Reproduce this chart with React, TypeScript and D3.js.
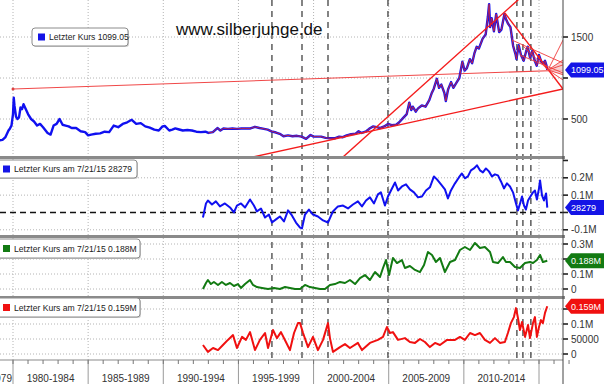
import React from 'react';
import * as d3 from 'd3';

const W = 604;
const H = 384;

// Gold price (Letzter Kurs), [year, USD]
const goldData: [number, number][] = [
  [1979.1, 240], [1979.3, 245], [1979.5, 280], [1979.7, 360], [1979.8, 385], [1979.9, 420],
  [1980.0, 560], [1980.05, 760], [1980.1, 660], [1980.2, 530], [1980.3, 500], [1980.4, 520],
  [1980.5, 640], [1980.6, 620], [1980.7, 680], [1980.8, 640], [1980.9, 600], [1981.0, 560],
  [1981.2, 500], [1981.4, 470], [1981.6, 420], [1981.8, 440], [1982.0, 400], [1982.3, 330],
  [1982.5, 310], [1982.7, 420], [1982.9, 440], [1983.1, 500], [1983.3, 430], [1983.5, 420],
  [1983.7, 410], [1983.9, 390], [1984.2, 390], [1984.5, 350], [1984.8, 340], [1985.0, 300],
  [1985.2, 310], [1985.5, 320], [1985.8, 325], [1986.1, 345], [1986.4, 340], [1986.7, 420],
  [1987.0, 400], [1987.3, 440], [1987.6, 460], [1987.9, 490], [1988.2, 440], [1988.5, 450],
  [1988.8, 410], [1989.1, 395], [1989.4, 370], [1989.7, 360], [1989.95, 410], [1990.1, 415],
  [1990.4, 360], [1990.6, 370], [1990.8, 385], [1991.0, 375], [1991.3, 360], [1991.6, 365],
  [1991.9, 360], [1992.2, 345], [1992.5, 340], [1992.8, 345], [1993.0, 330], [1993.3, 340],
  [1993.6, 390], [1993.8, 360], [1994.0, 385], [1994.3, 380], [1994.6, 385], [1994.9, 380],
  [1995.2, 385], [1995.5, 385], [1995.8, 385], [1996.1, 405], [1996.4, 390], [1996.7, 380],
  [1996.95, 370], [1997.2, 350], [1997.5, 335], [1997.8, 315], [1998.0, 290], [1998.3, 300],
  [1998.6, 290], [1998.9, 295], [1999.2, 285], [1999.5, 258], [1999.8, 305], [2000.0, 285],
  [2000.2, 285], [2000.5, 285], [2000.8, 270], [2001.1, 265], [2001.4, 265], [2001.7, 285],
  [2001.95, 278], [2002.2, 300], [2002.5, 315], [2002.8, 320], [2003.0, 350], [2003.2, 330],
  [2003.5, 350], [2003.7, 380], [2003.95, 410], [2004.2, 400], [2004.4, 390], [2004.7, 410],
  [2004.95, 440], [2005.2, 425], [2005.5, 430], [2005.7, 460], [2005.95, 510], [2006.2, 560],
  [2006.37, 700], [2006.5, 610], [2006.6, 650], [2006.8, 590], [2006.95, 630], [2007.2, 665],
  [2007.45, 650], [2007.7, 730], [2007.85, 810], [2008.0, 870], [2008.2, 990], [2008.35, 880],
  [2008.5, 920], [2008.7, 820], [2008.8, 720], [2008.95, 860], [2009.15, 950], [2009.3, 880],
  [2009.5, 940], [2009.7, 1000], [2009.9, 1200], [2010.05, 1090], [2010.2, 1120], [2010.4, 1230],
  [2010.55, 1180], [2010.7, 1300], [2010.85, 1380], [2011.0, 1360], [2011.25, 1480], [2011.45, 1530],
  [2011.6, 1750], [2011.68, 1900], [2011.75, 1620], [2011.85, 1730], [2012.0, 1570], [2012.15, 1780],
  [2012.35, 1560], [2012.5, 1590], [2012.7, 1780], [2012.8, 1720], [2012.95, 1660], [2013.1, 1620],
  [2013.28, 1390], [2013.45, 1280], [2013.5, 1230], [2013.65, 1400], [2013.8, 1280], [2013.98, 1210],
  [2014.15, 1330], [2014.25, 1380], [2014.4, 1250], [2014.55, 1330], [2014.7, 1220], [2014.85, 1150],
  [2015.0, 1280], [2015.15, 1200], [2015.3, 1180], [2015.4, 1210], [2015.5, 1150], [2015.55, 1099.05],
];

// Panel 2 (blue), [year, millions]
const blueData: [number, number][] = [
  [1992.64, -0.029], [1992.84, 0.052], [1992.97, 0.069], [1993.24, 0.046], [1993.5, 0.064],
  [1993.77, 0.035], [1994.1, 0.052], [1994.44, 0.029], [1994.7, 0.0], [1994.9, 0.04],
  [1995.17, 0.052], [1995.44, 0.029], [1995.77, 0.075], [1996.03, 0.04], [1996.23, 0.006],
  [1996.5, 0.023], [1996.77, -0.029], [1997.03, -0.012], [1997.23, -0.058], [1997.5, -0.04],
  [1997.76, -0.023], [1998.03, -0.052], [1998.3, 0.012], [1998.56, -0.017], [1998.83, -0.058],
  [1999.1, -0.087], [1999.23, -0.092], [1999.43, -0.012], [1999.69, 0.017], [1999.96, -0.012],
  [2000.29, -0.023], [2000.63, -0.046], [2000.96, -0.058], [2001.29, 0.006], [2001.62, 0.035],
  [2001.96, 0.04], [2002.29, 0.023], [2002.62, 0.046], [2002.95, 0.064], [2003.22, 0.035],
  [2003.49, 0.069], [2003.75, 0.087], [2004.02, 0.052], [2004.28, 0.104], [2004.48, 0.116],
  [2004.75, 0.04], [2004.95, 0.092], [2005.15, 0.127], [2005.42, 0.173], [2005.62, 0.127],
  [2005.88, 0.15], [2006.15, 0.162], [2006.41, 0.133], [2006.68, 0.116], [2006.95, 0.087],
  [2007.21, 0.092], [2007.48, 0.127], [2007.74, 0.145], [2008.01, 0.208], [2008.21, 0.191],
  [2008.48, 0.162], [2008.74, 0.133], [2008.94, 0.081], [2009.14, 0.127], [2009.41, 0.168],
  [2009.67, 0.202], [2009.87, 0.225], [2010.07, 0.197], [2010.27, 0.208], [2010.47, 0.243],
  [2010.67, 0.254], [2010.87, 0.272], [2011.07, 0.243], [2011.27, 0.231], [2011.47, 0.254],
  [2011.67, 0.237], [2011.87, 0.208], [2012.07, 0.22], [2012.27, 0.214], [2012.47, 0.179],
  [2012.67, 0.139], [2012.87, 0.168], [2013.07, 0.15], [2013.27, 0.116], [2013.47, 0.052],
  [2013.6, 0.012], [2013.74, 0.052], [2013.87, 0.092], [2014.0, 0.04], [2014.13, 0.017],
  [2014.27, 0.069], [2014.47, 0.098], [2014.6, 0.116], [2014.73, 0.127], [2014.86, 0.075],
  [2015.0, 0.139], [2015.07, 0.185], [2015.2, 0.098], [2015.33, 0.069], [2015.47, 0.11],
  [2015.55, 0.028279],
];

// Panel 3 (green), [year, millions]
const greenData: [number, number][] = [
  [1992.64, 0.0], [1992.84, 0.04], [1992.97, 0.06], [1993.17, 0.033], [1993.37, 0.047],
  [1993.64, 0.027], [1993.9, 0.047], [1994.17, 0.027], [1994.44, 0.04], [1994.7, 0.02],
  [1994.97, 0.033], [1995.17, 0.007], [1995.44, 0.033], [1995.77, 0.06], [1995.97, 0.027],
  [1996.23, 0.013], [1996.57, 0.007], [1996.97, 0.0], [1997.37, 0.007], [1997.76, 0.0],
  [1998.1, 0.013], [1998.43, 0.007], [1998.76, 0.0], [1999.1, 0.0], [1999.43, 0.027],
  [1999.76, 0.013], [2000.09, 0.007], [2000.43, 0.0], [2000.76, 0.0], [2001.09, 0.027],
  [2001.42, 0.033], [2001.76, 0.047], [2002.09, 0.04], [2002.42, 0.06], [2002.76, 0.033],
  [2003.09, 0.073], [2003.42, 0.093], [2003.75, 0.06], [2004.09, 0.113], [2004.42, 0.08],
  [2004.62, 0.14], [2004.82, 0.193], [2005.02, 0.093], [2005.28, 0.207], [2005.55, 0.173],
  [2005.88, 0.193], [2006.08, 0.14], [2006.41, 0.153], [2006.75, 0.127], [2007.08, 0.113],
  [2007.35, 0.16], [2007.61, 0.247], [2007.88, 0.227], [2008.14, 0.18], [2008.41, 0.207],
  [2008.74, 0.113], [2009.08, 0.18], [2009.41, 0.193], [2009.74, 0.26], [2010.07, 0.28],
  [2010.41, 0.26], [2010.74, 0.307], [2011.07, 0.273], [2011.4, 0.28], [2011.74, 0.247],
  [2011.94, 0.18], [2012.27, 0.173], [2012.6, 0.213], [2012.8, 0.18], [2013.07, 0.18],
  [2013.4, 0.147], [2013.73, 0.14], [2014.07, 0.173], [2014.4, 0.18], [2014.6, 0.173],
  [2014.86, 0.193], [2015.07, 0.227], [2015.26, 0.18], [2015.55, 0.188],
];

// Panel 4 (red), [year, millions]
const redData: [number, number][] = [
  [1992.64, 0.03], [1992.97, 0.007], [1993.31, 0.02], [1993.64, 0.013], [1993.97, 0.03],
  [1994.3, 0.047], [1994.64, 0.063], [1994.9, 0.02], [1995.24, 0.057], [1995.5, 0.047],
  [1995.77, 0.073], [1996.1, 0.013], [1996.43, 0.047], [1996.77, 0.07], [1996.97, 0.02],
  [1997.3, 0.08], [1997.56, 0.053], [1997.83, 0.073], [1998.16, 0.04], [1998.43, 0.013],
  [1998.7, 0.07], [1998.96, 0.103], [1999.1, 0.103], [1999.3, 0.07], [1999.63, 0.023],
  [1999.96, 0.057], [2000.29, 0.013], [2000.63, 0.047], [2000.96, 0.103], [2001.09, 0.053],
  [2001.29, 0.007], [2001.76, 0.023], [2002.09, 0.033], [2002.42, 0.02], [2002.95, 0.037],
  [2003.22, 0.013], [2003.75, 0.037], [2004.28, 0.047], [2004.62, 0.057], [2004.88, 0.09],
  [2005.08, 0.07], [2005.28, 0.073], [2005.62, 0.047], [2006.08, 0.053], [2006.41, 0.04],
  [2006.75, 0.037], [2007.08, 0.05], [2007.41, 0.04], [2007.74, 0.023], [2008.08, 0.037],
  [2008.41, 0.03], [2008.88, 0.047], [2009.41, 0.047], [2009.74, 0.057], [2010.07, 0.047],
  [2010.41, 0.07], [2010.74, 0.063], [2011.07, 0.07], [2011.4, 0.047], [2011.74, 0.037],
  [2012.07, 0.053], [2012.4, 0.037], [2012.73, 0.04], [2012.93, 0.07], [2013.13, 0.103],
  [2013.33, 0.123], [2013.47, 0.153], [2013.6, 0.12], [2013.73, 0.08], [2013.87, 0.107],
  [2014.07, 0.057], [2014.27, 0.097], [2014.4, 0.053], [2014.6, 0.103], [2014.73, 0.123],
  [2014.86, 0.057], [2015.0, 0.09], [2015.13, 0.113], [2015.26, 0.103], [2015.4, 0.137],
  [2015.55, 0.159],
];

const periodStarts = [1975, 1980, 1985, 1990, 1995, 2000, 2005, 2010];
const periodLabels = ['1975-1979', '1980-1984', '1985-1989', '1990-1994', '1995-1999', '2000-2004', '2005-2009', '2010-2014'];
const gridYears = [1980, 1985, 1990, 1995, 2000, 2005, 2010, 2015];
const eventYears = [1997.23, 1999.23, 2000.96, 2004.95, 2013.53, 2013.93, 2014.46];

const goldTicks = [500, 1000, 1500];
const blueTicks = [-0.1, 0, 0.1, 0.2, 0.3];
const greenTicks = [0, 0.1, 0.2, 0.3];
const redTicks = [0, 0.05, 0.1, 0.15];

// Trend lines on the gold panel: [year1, value1, year2, value2]
const trendMain: [number, number, number, number][] = [
  [1995.97, 37, 2016.6, 866],
  [2001.96, 37, 2014.2, 2050],
  [2012.73, 1793, 2016.6, 866],
];
const trendFlat: [number, number, number, number] = [1980.0, 866, 2016.6, 1095];
const trendFan: [number, number, number, number][] = [
  [2015.6, 1098, 2016.6, 1463],
  [2015.6, 1098, 2016.6, 1220],
  [2015.6, 1098, 2016.6, 1160],
  [2015.6, 1098, 2016.6, 1040],
  [2015.6, 1098, 2016.6, 976],
  [2013.87, 1402, 2015.6, 1098],
  [2013.2, 1463, 2016.6, 1183],
  [2013.73, 1280, 2016.6, 1061],
];

const FONT = "'Liberation Sans', Arial, sans-serif";
const AXIS_X = 563;

function fmtM(v: number) {
  if (v === 0) return '0';
  if (Math.abs(v) >= 0.1 - 1e-9) return `${+v.toFixed(2)}M`;
  return `${Math.round(v * 1e6)}`;
}

export default function App() {
  const x = d3.scaleLinear().domain([1980, 2015]).range([13, 539]);
  const yGold = d3.scaleLinear().domain([0, 1500]).range([160, 37]);
  const yBlue = d3.scaleLinear().domain([-0.1, 0.2]).range([229.8, 177.8]);
  const yGreen = d3.scaleLinear().domain([0, 0.3]).range([289, 244]);
  const yRed = d3.scaleLinear().domain([0, 0.1]).range([354, 324]);

  const panels = [
    { top: 0, bottom: 156, id: 'p1' },
    { top: 159, bottom: 235, id: 'p2' },
    { top: 238, bottom: 296, id: 'p3' },
    { top: 299, bottom: 360, id: 'p4' },
  ];

  const lineG = d3.line<[number, number]>().x(d => x(d[0])).y(d => yGold(d[1]));
  const lineB = d3.line<[number, number]>().x(d => x(d[0])).y(d => yBlue(d[1]));
  const lineGr = d3.line<[number, number]>().x(d => x(d[0])).y(d => yGreen(d[1]));
  const lineR = d3.line<[number, number]>().x(d => x(d[0])).y(d => yRed(d[1]));

  const minorYears = d3.range(1976, 2018);

  const tags = [
    { y: yGold(1099.05), t: '1099.05', c: '#1414e6' },
    { y: yBlue(0.028279), t: '28279', c: '#1414e6' },
    { y: yGreen(0.188), t: '0.188M', c: '#127a12' },
    { y: yRed(0.159), t: '0.159M', c: '#f01010' },
  ];

  const allTicks = [
    ...goldTicks.map(v => ({ y: yGold(v), t: String(v) })),
    ...blueTicks.map(v => ({ y: yBlue(v), t: v === 0.3 ? '' : fmtM(v) })),
    ...greenTicks.map(v => ({ y: yGreen(v), t: fmtM(v) })),
    ...redTicks.map(v => ({ y: yRed(v), t: fmtM(v) })),
  ];
  // labels hidden behind a value tag are not drawn (tick mark stays)
  const tickLabels = allTicks.map(tl => ({
    ...tl,
    t: tags.some(tg => Math.abs(tg.y - tl.y) < 11) ? '' : tl.t,
  }));

  const legends = [
    { x: 32, y: 28, w: 96, h: 18, c: '#1414e6', t: 'Letzter Kurs  1099.05' },
    { x: -3, y: 160, w: 140, h: 18, c: '#1414e6', t: 'Letzter Kurs am 7/21/15  28279' },
    { x: -3, y: 239, w: 143, h: 19, c: '#127a12', t: 'Letzter Kurs am 7/21/15  0.188M' },
    { x: -3, y: 298, w: 143, h: 19, c: '#f01010', t: 'Letzter Kurs am 7/21/15  0.159M' },
  ];

  const fanP = { x: x(2015.6), y: yGold(1098) };

  return (
    <svg width={W} height={H} style={{ position: 'absolute', left: 0, top: 0, background: '#fff' }}>
      <defs>
        {panels.map(p => (
          <clipPath id={`clip-${p.id}`} key={p.id}>
            <rect x={0} y={p.top} width={AXIS_X} height={p.bottom - p.top} />
          </clipPath>
        ))}
      </defs>
      <rect x={0} y={0} width={W} height={H} fill="#fff" />

      {/* dotted grid */}
      {panels.map(p => (
        <g key={`vg-${p.id}`}>
          {gridYears.map(yr => (
            <line key={yr} x1={x(yr)} x2={x(yr)} y1={p.top} y2={p.bottom}
              stroke="#b4b4b4" strokeDasharray="1,2" strokeWidth={1} />
          ))}
        </g>
      ))}
      {[
        ...goldTicks.map(v => yGold(v)),
        ...blueTicks.filter(v => v !== 0 && v !== 0.3).map(v => yBlue(v)),
        ...greenTicks.map(v => yGreen(v)),
        ...redTicks.map(v => yRed(v)),
      ].map((yy, i) => (
        <line key={`hg${i}`} x1={0} x2={AXIS_X} y1={yy} y2={yy} stroke="#b4b4b4" strokeDasharray="1,2" />
      ))}

      {/* event dashed verticals */}
      {eventYears.map(yr => (
        <line key={`ev${yr}`} x1={x(yr)} x2={x(yr)} y1={0} y2={360}
          stroke="#333" strokeWidth={1.2} strokeDasharray="6,5" />
      ))}

      {/* panel 1: gold */}
      <g clipPath="url(#clip-p1)">
        <line x1={x(trendFlat[0])} y1={yGold(trendFlat[1])} x2={x(trendFlat[2])} y2={yGold(trendFlat[3])}
          stroke="#f04848" strokeWidth={1.1} />
        <circle cx={x(trendFlat[0])} cy={yGold(trendFlat[1])} r={1.5} fill="#e04040" />
        <polygon
          points={`${fanP.x},${fanP.y} ${AXIS_X},${yGold(1220)} ${AXIS_X},${yGold(1040)}`}
          fill="#f6c4c4" opacity={0.8} />
        <path d={lineG(goldData) || ''} fill="none" stroke="#1010f0" strokeWidth={2.4} strokeLinejoin="round" />
        <path d={lineG(goldData.filter(d => d[0] >= 1993)) || ''} fill="none" stroke="#e02828" strokeWidth={0.8} />
        {trendMain.map((t, i) => (
          <line key={`tm${i}`} x1={x(t[0])} y1={yGold(t[1])} x2={x(t[2])} y2={yGold(t[3])}
            stroke="#f41c1c" strokeWidth={1.4} />
        ))}
        {trendFan.map((t, i) => (
          <line key={`tf${i}`} x1={x(t[0])} y1={yGold(t[1])} x2={x(t[2])} y2={yGold(t[3])}
            stroke="#f03c3c" strokeWidth={0.9} />
        ))}
      </g>

      {/* panel 2 */}
      <g clipPath="url(#clip-p2)">
        <line x1={0} x2={AXIS_X} y1={yBlue(0)} y2={yBlue(0)} stroke="#111" strokeWidth={1.5} strokeDasharray="6,4" />
        <path d={lineB(blueData) || ''} fill="none" stroke="#1010f0" strokeWidth={2} strokeLinejoin="round" />
      </g>

      {/* panel 3 */}
      <g clipPath="url(#clip-p3)">
        <path d={lineGr(greenData) || ''} fill="none" stroke="#127a12" strokeWidth={2} strokeLinejoin="round" />
      </g>

      {/* panel 4 */}
      <g clipPath="url(#clip-p4)">
        <path d={lineR(redData) || ''} fill="none" stroke="#f01010" strokeWidth={2} strokeLinejoin="round" />
      </g>

      {/* panel separators */}
      {[156, 235, 296].map(yy => (
        <rect key={`sep${yy}`} x={0} y={yy} width={AXIS_X + 2} height={3} fill="#8a8a8a" />
      ))}

      {/* x axis band */}
      <line x1={0} x2={AXIS_X} y1={360} y2={360} stroke="#8a8a8a" strokeWidth={1.2} />
      {gridYears.map(yr => (
        <line key={`xb${yr}`} x1={x(yr)} x2={x(yr)} y1={360} y2={H} stroke="#9a9a9a" strokeWidth={1} />
      ))}
      {minorYears.map(yr => (
        <line key={`mt${yr}`} x1={x(yr)} x2={x(yr)} y1={360} y2={364} stroke="#777" strokeWidth={1} />
      ))}
      {periodStarts.map((ps, i) => (
        <text key={`pl${ps}`}
          x={i === 0 ? x(1980) - 1 : x(ps + 2.5)}
          y={382}
          textAnchor={i === 0 ? 'end' : 'middle'}
          fontFamily={FONT} fontSize={10} fill="#333">{periodLabels[i]}</text>
      ))}

      {/* right axis */}
      <line x1={AXIS_X} x2={AXIS_X} y1={0} y2={H} stroke="#444" strokeWidth={1} />
      {tickLabels.map((tl, i) => (
        <g key={`tl${i}`}>
          <line x1={AXIS_X} x2={AXIS_X + 5} y1={tl.y} y2={tl.y} stroke="#222" strokeWidth={1.6} />
          {tl.t && (
            <text x={AXIS_X + 8} y={tl.y + 3.5} fontFamily={FONT} fontSize={10} fill="#333">{tl.t}</text>
          )}
        </g>
      ))}

      {/* value tags */}
      {tags.map((tg, i) => (
        <g key={`tag${i}`}>
          <path d={`M${AXIS_X + 2},${tg.y} L${AXIS_X + 8},${tg.y - 7.5} L${W},${tg.y - 7.5} L${W},${tg.y + 7.5} L${AXIS_X + 8},${tg.y + 7.5} Z`}
            fill={tg.c} />
          <text x={AXIS_X + 8} y={tg.y + 3.3} fontFamily={FONT} fontSize={9} fill="#fff">{tg.t}</text>
        </g>
      ))}

      {/* legends */}
      {legends.map((lg, i) => (
        <g key={`lg${i}`}>
          <rect x={lg.x + 1} y={lg.y + 1} width={lg.w} height={lg.h} rx={3} fill="#cfcfcf" />
          <rect x={lg.x} y={lg.y} width={lg.w} height={lg.h} rx={3} fill="#fff" stroke="#8c8c8c" strokeWidth={1} />
          <rect x={lg.x + 6} y={lg.y + lg.h / 2 - 3.5} width={7} height={7} fill={lg.c} />
          <text x={lg.x + 17} y={lg.y + lg.h / 2 + 3.2} fontFamily={FONT} fontSize={8.6} fill="#222">{lg.t}</text>
        </g>
      ))}

      {/* watermark */}
      <text x={176} y={35} fontFamily={FONT} fontSize={17} fill="#111">www.silberjunge.de</text>
    </svg>
  );
}
